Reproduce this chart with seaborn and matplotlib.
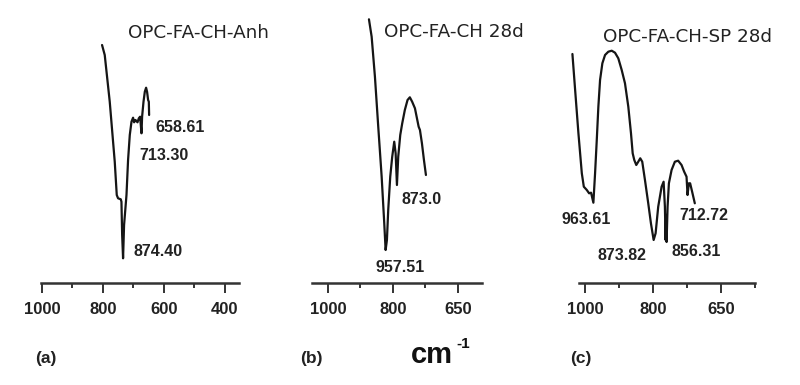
import matplotlib
matplotlib.use("Agg")
import matplotlib.pyplot as plt
import seaborn as sns
import pandas as pd
from matplotlib.ticker import FixedLocator, FixedFormatter

# ---------------- data ----------------
titles = ["OPC-FA-CH-Anh", "OPC-FA-CH 28d", "OPC-FA-CH-SP 28d"]
panel_tags = ["(a)", "(b)", "(c)"]

wn_a = [802.9, 794.1, 777.7, 761.3, 754.7, 750.4, 741.6, 739.3, 737.0, 734.0,
        730.7, 722.8, 717.6, 712.0, 706.4, 701.2, 697.9, 693.3, 686.7, 682.4,
        678.2, 673.6, 671.6, 667.0, 662.7, 658.5, 655.2, 651.9, 649.6, 648.6]
tr_a = [238, 228, 181.3, 121.3, 88, 84.7, 83.7, 81.3, 48, 24.7,
        58, 88, 123, 148, 161.3, 165.3, 160.7, 163, 160.7, 164.7,
        166.3, 149.7, 166.3, 181.3, 191.3, 195.3, 191, 183, 181.3, 168]

wn_b = [873.8, 865.5, 855.4, 845.2, 834.7, 826.7, 822.5, 818.5, 814.5, 808.3,
        802.2, 796.0, 791.7, 787.7, 783.7, 777.5, 771.4, 763.4, 755.1, 748.0,
        740.9, 732.3, 724.0, 720.9, 716.9, 710.8, 704.6, 698.5]
tr_b = [263.7, 246.3, 206.3, 156.3, 106.3, 59.7, 33, 43, 73, 106.3,
        126.3, 141.3, 129.7, 98, 126.3, 148, 159.7, 173, 183, 185.7,
        181.3, 174.7, 161.3, 156.3, 153, 139.7, 123, 108]

wn_c = [1037.4, 1029.4, 1019.7, 1009.7, 1003.8, 995.0, 988.2, 982.4, 975.6, 970.6,
        965.6, 960.9, 955.9, 949.1, 941.2, 931.5, 921.5, 911.8, 902.1, 892.1,
        882.4, 872.6, 864.7, 859.7, 855.0, 849.1, 843.2, 837.4, 831.5, 823.5,
        813.8, 805.9, 797.9, 792.1, 784.4, 774.4, 768.5, 764.7, 762.6, 760.9,
        759.7, 756.8, 752.9, 745.0, 735.3, 725.6, 715.6, 707.9, 700.9, 697.9,
        694.1, 690.3, 684.4, 676.5]
tr_c = [229, 193, 149.7, 109.7, 96.3, 93, 89.7, 90.3, 80.3, 109.7,
        143, 176.3, 203, 219.7, 228, 231.3, 232.3, 230.3, 224.7, 213,
        199.7, 176.3, 149.7, 129.7, 123, 118, 121.3, 124.7, 121.3, 103,
        79.7, 59.7, 43, 49.7, 76.3, 96.3, 101.3, 76.3, 43, 68,
        41, 76.3, 99.7, 113, 121.3, 122.3, 118, 111.3, 106.3, 88,
        99.7, 99.7, 91.3, 79.7]

# axis ticks (positions on a linear scale) and labels
major_a = [1000, 800, 600, 400]
major_labels_a = ["1000", "800", "600", "400"]
minor_a = [900, 700, 500]
major_b = [1000, 800, 600]
major_labels_b = ["1000", "800", "650"]
minor_b = [900, 700]
major_c = [1000, 800, 600]
major_labels_c = ["1000", "800", "650"]
minor_c = [900, 700, 500]

peak_labels_a = ["658.61", "713.30", "874.40"]
peak_labels_b = ["873.0", "957.51"]
peak_labels_c = ["963.61", "873.82", "856.31", "712.72"]

unit_text = "cm"
unit_sup = "-1"

# ---------------- layout ----------------
W, H = 800, 385
sns.set_style("white")
plt.rcParams["font.family"] = ["DejaVu Sans"]
fig = plt.figure(figsize=(W / 100, H / 100), dpi=100)

def fx(px):
    return px / W

def fy(py):
    return 1 - py / H

top_px, bot_px = 15, 283
panels = [
    dict(left=40.7, right=239.3, xlim=(1004, 353), wn=wn_a, tr=tr_a,
         major=major_a, mlab=major_labels_a, minor=minor_a),
    dict(left=312, right=482, xlim=(1049, 526), wn=wn_b, tr=tr_b,
         major=major_b, mlab=major_labels_b, minor=minor_b),
    dict(left=579, right=755, xlim=(1018, 499), wn=wn_c, tr=tr_c,
         major=major_c, mlab=major_labels_c, minor=minor_c),
]

line_color = "#151515"
for p in panels:
    ax = fig.add_axes([fx(p["left"]), fy(bot_px), (p["right"] - p["left"]) / W,
                       (bot_px - top_px) / H])
    df = pd.DataFrame({"wn": p["wn"], "tr": p["tr"]})
    sns.lineplot(data=df, x="wn", y="tr", sort=False, estimator=None, ax=ax,
                 color=line_color, lw=1.6)
    ax.lines[-1].set_clip_on(False)
    ax.set_xlim(*p["xlim"])
    ax.set_ylim(0, bot_px - top_px)
    ax.set_xlabel("")
    ax.set_ylabel("")
    ax.set_yticks([])
    for s in ["top", "left", "right"]:
        ax.spines[s].set_visible(False)
    ax.spines["bottom"].set_color("#333333")
    ax.spines["bottom"].set_linewidth(1.8)
    ax.xaxis.set_major_locator(FixedLocator(p["major"]))
    ax.xaxis.set_major_formatter(FixedFormatter(p["mlab"]))
    ax.xaxis.set_minor_locator(FixedLocator(p["minor"]))
    ax.tick_params(axis="x", which="major", direction="out", length=7.5, width=1.4,
                   color="#333333", pad=6, labelsize=12, bottom=True)
    ax.tick_params(axis="x", which="minor", direction="out", length=3.5, width=1.4,
                   color="#333333", bottom=True)
    for lab in ax.get_xticklabels():
        lab.set_fontfamily("Liberation Sans")
        lab.set_fontweight("bold")
        lab.set_color("#222222")
    ax.set_facecolor("none")

# titles
title_pos = [(128, 33), (384, 32), (603, 37)]
for t, (px, py) in zip(titles, title_pos):
    fig.text(fx(px), fy(py), t, ha="left", va="center", fontsize=13.2,
             color="#222222", family="DejaVu Sans")

# peak labels
lab_font = dict(ha="left", va="center", fontsize=11.5, fontweight="bold",
                color="#222222", family="Liberation Sans")
pos_a = [(155, 127), (139, 156), (133, 252)]
pos_b = [(402, 200), (376, 267)]
pos_c = [(562, 220), (598, 255), (672, 252), (679, 215)]
for labs, poss in [(peak_labels_a, pos_a), (peak_labels_b, pos_b), (peak_labels_c, pos_c)]:
    for t, (px, py) in zip(labs, poss):
        fig.text(fx(px), fy(py), t, **lab_font)

# panel tags
tag_pos = [(35, 358), (300, 358), (570, 359)]
for t, (px, py) in zip(panel_tags, tag_pos):
    fig.text(fx(px), fy(py), t, ha="left", va="center", fontsize=12.5,
             fontweight="bold", color="#222222", family="Liberation Sans")

# unit
fig.text(fx(411), fy(355), unit_text, ha="left", va="center", fontsize=21,
         fontweight="bold", color="#111111", family="Liberation Sans")
fig.text(fx(456), fy(344), unit_sup, ha="left", va="center", fontsize=11,
         fontweight="bold", color="#111111", family="Liberation Sans")

fig.savefig("out.png", dpi=100)
